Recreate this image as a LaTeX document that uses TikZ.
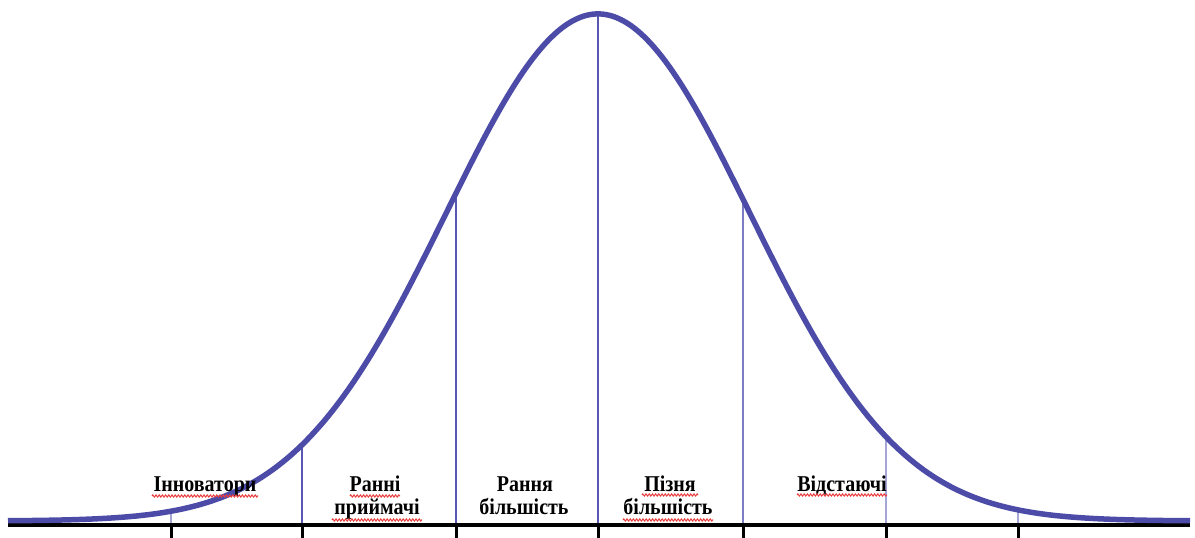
\documentclass[tikz,border=0pt]{standalone}
\usepackage{fontspec}
\setmainfont{Liberation Serif}
\usetikzlibrary{decorations.pathmorphing}
\definecolor{curveblue}{RGB}{76,76,168}
\definecolor{lineA}{RGB}{88,88,180}
\definecolor{lineB}{RGB}{125,125,196}
\definecolor{lineC}{RGB}{165,165,215}
\definecolor{spellred}{RGB}{235,60,60}
\pgfmathdeclarefunction{bell}{1}{\pgfmathparse{17+507*exp(-0.5*((#1-598)/152)^2)}}
\tikzset{
  curve/.style={draw=curveblue, line width=5.5pt},
  axisline/.style={draw=black, line width=3.8pt},
  tickline/.style={draw=black, line width=3pt},
  divider/.style={line width=2pt},
  lbl/.style={font=\bfseries\fontsize{20}{23}\selectfont, inner sep=0pt, anchor=base,
    yscale=1.13, transform shape},
  spell/.style={draw=spellred, line width=1pt, decorate,
    decoration={zigzag, amplitude=1.1pt, segment length=3.2pt}}
}
\begin{document}
\begin{tikzpicture}[x=1pt,y=1pt]
\useasboundingbox (0,0) rectangle (1195,538);
\fill[white] (0,0) rectangle (1195,538);
% axis
\draw[axisline] (8,13) -- (1190,13);
\foreach \t in {171,302,456,598,743,886,1018}
  \draw[tickline] (\t,13) -- (\t,0);
% dividers
\foreach \t/\c in {171/lineC,302/lineA,456/lineA,598/lineA,743/lineB,886/lineC,1018/lineC}{
  \pgfmathsetmacro{\h}{bell(\t)}
  \coordinate (top\t) at (\t,\h);
  \coordinate (bot\t) at (\t,15);
  \draw[divider, draw=\c] (bot\t) -- (top\t);
}
% curve
\draw[curve] plot[domain=8:1190, samples=240, smooth] (\x,{bell(\x)});
% labels
\node[lbl] (innov) at (205,46) {Інноватори};
\node[lbl] (early1) at (375,46) {Ранні};
\node[lbl] (early2) at (377,23) {приймачі};
\node[lbl] (emaj1) at (525,46) {Рання};
\node[lbl] (emaj2) at (524,23) {більшість};
\node[lbl] (lmaj1) at (670,46) {Пізня};
\node[lbl] (lmaj2) at (668,23) {більшість};
\node[lbl] (lag) at (842,46) {Відстаючі};
% spell-check underlines
\coordinate (s1a) at (152,42); \coordinate (s1b) at (258,42);
\coordinate (s2a) at (350,42); \coordinate (s2b) at (400,42);
\coordinate (s3a) at (332,18); \coordinate (s3b) at (422,18);
\coordinate (s4a) at (642,43); \coordinate (s4b) at (698,43);
\coordinate (s5a) at (623,18); \coordinate (s5b) at (713,18);
\coordinate (s6a) at (797,43); \coordinate (s6b) at (887,43);
\foreach \s in {1,...,6}
  \draw[spell] (s\s a) -- (s\s b);
\end{tikzpicture}
\end{document}
